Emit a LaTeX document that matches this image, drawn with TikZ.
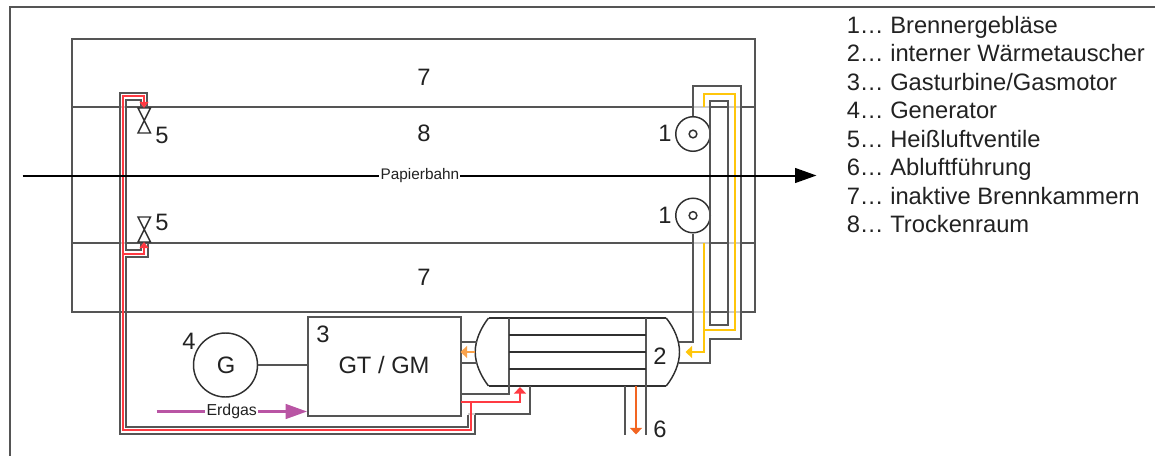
\documentclass[tikz,border=0pt]{standalone}
\usepackage{fontspec}
\setmainfont{Liberation Sans}
\usetikzlibrary{arrows.meta}
\definecolor{ln}{HTML}{555555}
\definecolor{dk}{HTML}{303030}
\definecolor{frm}{HTML}{555555}
\definecolor{lgt}{HTML}{CCCCCC}
\definecolor{txt}{HTML}{222222}
\definecolor{redp}{HTML}{FF3A42}
\definecolor{yel}{HTML}{FFC60B}
\definecolor{oran}{HTML}{F26522}
\definecolor{oral}{HTML}{F9A24B}
\definecolor{mag}{HTML}{B955A4}
\tikzset{
  pipe/.style={draw=ln,line width=1.5pt},
  tube/.style={draw=dk,line width=1.05pt},
  curve/.style={draw=dk,line width=1.1pt},
  thin pipe/.style={draw=lgt,line width=1.5pt},
  frame line/.style={draw=frm,line width=1.5pt},
  redline/.style={draw=redp,line width=1.5pt},
  yelline/.style={draw=yel,line width=1.25pt},
  tip/.style={-{Triangle[length=5pt,width=9pt]}},
  small tip/.style={-{Triangle[length=4.5pt,width=6.5pt]}},
  big/.style={font=\fontsize{17.8}{20}\selectfont,text=txt,inner sep=0pt,xshift=.375pt,yshift=-.375pt},
  small/.style={font=\fontsize{11.5}{14}\selectfont,text=txt,inner sep=1pt},
  fan/.style={circle,curve,minimum size=25.9pt,inner sep=0pt},
  hub/.style={circle,curve,minimum size=5.8pt,inner sep=0pt},
}
\begin{document}
\begin{tikzpicture}[x=.75pt,y=-.75pt]
\useasboundingbox (0,0) rectangle (1155,456);
\begin{scope}[shift={(-.5,-.5)}]
% frame
\coordinate (fa) at (10.5,457); \coordinate (fb) at (10.5,8); \coordinate (fc) at (1156,8);
\draw[frame line] (fa) -- (fb) -- (fc);
% main box
\draw[pipe] (72.5,39.5) rectangle (755.5,312.5);
\foreach \y in {107.5,243.5}{
  \draw[pipe] (72.5,\y) -- (120.5,\y);
  \draw[thin pipe] (120.5,\y) -- (126.5,\y);
  \draw[pipe] (126.5,\y) -- (693.5,\y);
  \draw[thin pipe] (693.5,\y) -- (710.5,\y);
  \draw[pipe] (710.5,\y) -- (728.5,\y);
  \draw[thin pipe] (728.5,\y) -- (741.5,\y);
  \draw[pipe] (741.5,\y) -- (755.5,\y);
}
\draw[white,line width=1.8pt] (693.5,312.5) -- (741.5,312.5);
\draw[thin pipe] (693.5,312.5) -- (710.5,312.5);
\draw[pipe] (710.5,312.5) -- (728.5,312.5);
\draw[thin pipe] (728.5,312.5) -- (741.5,312.5);
% fans
\node[fan] (f1) at (693.5,134.5) {};
\node[hub] (h1) at (693.5,134.5) {};
\node[fan] (f2) at (693.5,216) {};
\node[hub] (h2) at (693.5,216) {};
% machines
\node[circle,curve,minimum size=48pt,inner sep=0pt] (gen) at (226,365.5) {};
\node[pipe,minimum width=114.75pt,minimum height=74.25pt,inner sep=0pt,anchor=north west] (gt) at (307.5,316.5) {};
\draw[pipe] (gen) -- (gt.west |- gen);
% heat exchanger
\coordinate (hxl) at (475.7,352.5); \coordinate (hxr) at (680,352.5);
\draw[tube] (489,318.5) -- (666.7,318.5);
\draw[tube] (489,386.5) -- (666.7,386.5);
\draw[curve] (666.7,318.5)
  .. controls (675,329) and (680,341) .. (hxr)
  .. controls (680,364) and (675,376) .. (666.7,386.5);
\draw[curve] (489,386.5)
  .. controls (481,376) and (475.7,364) .. (hxl)
  .. controls (475.7,341) and (481,329) .. (489,318.5);
\draw[pipe] (509.5,318.5) -- (509.5,394.5) -- (460.5,394.5);
\draw[pipe] (646.5,318.5) -- (646.5,435);
\draw[pipe] (625.5,386.5) -- (625.5,435);
\foreach \y in {335.5,352.5,369.5} \draw[tube] (509.5,\y) -- (646.5,\y);
\draw[pipe] (460.5,342.5) -- (477.5,342.5);
\draw[pipe] (460.5,363.5) -- (477.5,363.5);
\draw[draw=oran,line width=1.25pt,tip] (636.5,386.5) -- (636.5,435);
\draw[draw=oral,line width=1.25pt,tip] (hxl) -- (461,352.5);
% right side ducts
\draw[pipe] (f1.north) -- (693.5,86.5) -- (741.5,86.5) -- (741.5,339.5) -- (710.5,339.5) -- (710.5,363.5) -- (679,363.5);
\draw[pipe] (f2.south) -- (693.5,342.5) -- (679,342.5);
\draw[pipe] (710.5,101.5) rectangle (728.5,325.5);
\coordinate (ya) at (704.5,107.5); \coordinate (yb) at (704.5,243.5);
\draw[yelline] (ya) -- (704.5,94.5) -- (735.5,94.5) -- (735.5,330.5) -- (704.5,330.5);
\draw[yelline,tip] (yb) -- (704.5,352.5) -- (686,352.5);
% valves
\draw[curve] (138.5,108.5) -- (151,108.5) -- (138.5,133.5) -- (151,133.5) -- cycle;
\draw[curve] (138.5,217.5) -- (151,217.5) -- (138.5,242.5) -- (151,242.5) -- cycle;
% left ducts
\draw[pipe] (147.5,107.5) -- (147.5,93.5) -- (120.5,93.5) -- (120.5,434.5) -- (475.5,434.5) -- (475.5,414.5) -- (530.5,414.5) -- (530.5,386.5);
\draw[pipe] (141,107.5) -- (141,100.5) -- (126.5,100.5) -- (126.5,250.5) -- (141,250.5) -- (141,243.5);
\draw[pipe] (148.5,243.5) -- (148.5,257.5) -- (126.5,257.5) -- (126.5,427.5) -- (468.5,427.5) -- (468.5,415.5);
\draw[thin pipe] (468.5,414.5) -- (475.5,414.5);
% red
\draw[redline,small tip] (471.5,402.5) -- (471.5,430.5) -- (123.5,430.5) -- (123.5,96.5) -- (144.5,96.5) -- (144.5,108.5);
\draw[redline,small tip] (123.5,254) -- (144.5,254) -- (144.5,242.5);
\draw[redline,tip] (461,402.5) -- (520.5,402.5) -- (520.5,387.5);
% material web
\coordinate (wa) at (23,176); \coordinate (wb) at (817,176);
\draw[draw=black,line width=1.5pt,-{Triangle[length=16pt,width=11pt]}] (wa) -- node[small,fill=white,pos=.5005] (web) {Papierbahn} (wb);
% gas
\coordinate (ga) at (157,412);
\draw[draw=mag,line width=1.8pt,-{Triangle[length=16pt,width=11pt]}] (ga) -- node[small,fill=white,pos=.5,font=\fontsize{11.9}{14}\selectfont] (gas) {Erdgas} (gt.west |- ga);
% labels
\node[big] (l7a) at (424,77) {7};
\node[big] (l8) at (424,133) {8};
\node[big] (l7b) at (424,277) {7};
\node[big] (l5a) at (162,135) {5};
\node[big] (l5b) at (162,222) {5};
\node[big] (l1a) at (665,133) {1};
\node[big] (l1b) at (665,215) {1};
\node[big] (l4) at (189,341) {4};
\node[big] (l3) at (323,334) {3};
\node[big] (lG) at (gen) {G};
\node[big] (lgt) at (384,365) {GT / GM};
\node[big] (l2) at (660,356) {2};
\node[big] (l6) at (660,429) {6};
% legend
\foreach \i/\t in {1/Brennergebläse,2/interner Wärmetauscher,3/Gasturbine\slash Gasmotor,4/Generator,5/Heißluftventile,6/Abluftführung,7/inaktive Brennkammern,8/Trockenraum}{
  \node[big,anchor=base west] (leg\i) at (846.5,{33.3+(\i-1)*28.47}) {\i… \t};
}
\end{scope}
\end{tikzpicture}
\end{document}
